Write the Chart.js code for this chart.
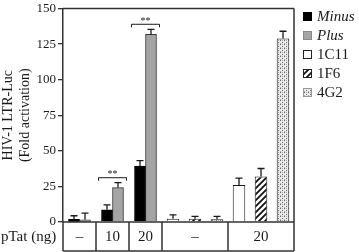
<!DOCTYPE html>
<html>
<head>
<title>pTat luciferase bars</title>
<script src="https://cdn.jsdelivr.net/npm/chart.js"></script>
<style>
body { margin: 0; background: #fff; }
#wrap { width: 359px; height: 252px; position: relative; }
</style>
</head>
<body>
<div id="wrap"><canvas id="myChart"></canvas></div>
<script>
// table row under the plot
var groupLabels = ['\u2013', '10', '20', '\u2013', '20'];
var yTicks = [0, 25, 50, 75, 100, 125, 150];

// pTat groups (first three cells)
var minusVals = [1.8, 8.6, 39.3];
var minusErr = [2.6, 3.5, 3.8];
var plusVals = [1.5, 24.2, 131.8];
var plusErr = [4.8, 3.4, 3.6];
// antibody groups (last two cells)
var c1c11Vals = [2.2, 26.0];
var c1c11Err = [2.8, 4.8];
var c1f6Vals = [2.2, 32.0];
var c1f6Err = [1.8, 5.6];
var c4g2Vals = [2.0, 129.0];
var c4g2Err = [2.0, 5.0];
var sigGroups = [1, 2]; // pTat groups marked **

var SERIF = '"Liberation Serif", "Times New Roman", serif';
var INK = '#1a1a1a';

// one fine category axis: pTat cells take 3 slots, antibody cells 6
var cellSpan = [3, 3, 3, 6, 6];
var cellStart = [];
var nSlots = 0;
cellSpan.forEach(function (s) { cellStart.push(nSlots); nSlots += s; });
var slots = [];
for (var k = 0; k <= nSlots; k++) slots.push('s' + k);

function tatSlot(g, second) { return cellStart[g] + 1 + (second ? 1 : 0); }
function abSlot(g, pos) { return cellStart[3 + g] + 1 + 2 * pos; }
function spread(vals, slotFn) {
  var out = slots.map(function () { return null; });
  vals.forEach(function (v, g) { out[slotFn(g)] = v; });
  return out;
}

function hatch() {
  var c = document.createElement('canvas');
  c.width = 6; c.height = 6;
  var g = c.getContext('2d');
  g.fillStyle = '#fff'; g.fillRect(0, 0, 6, 6);
  g.strokeStyle = '#111'; g.lineWidth = 1.8;
  g.beginPath();
  g.moveTo(0, 6); g.lineTo(6, 0);
  g.moveTo(-3, 3); g.lineTo(3, -3);
  g.moveTo(3, 9); g.lineTo(9, 3);
  g.stroke();
  return g.createPattern(c, 'repeat');
}
function dots() {
  var c = document.createElement('canvas');
  c.width = 4; c.height = 4;
  var g = c.getContext('2d');
  g.fillStyle = '#ebebeb'; g.fillRect(0, 0, 4, 4);
  g.fillStyle = '#666'; g.fillRect(0, 0, 1, 1); g.fillRect(2, 2, 1, 1);
  g.fillStyle = '#aaa'; g.fillRect(2, 0, 1, 1); g.fillRect(0, 3, 1, 1);
  return g.createPattern(c, 'repeat');
}

var extras = {
  id: 'extras',
  afterDatasetsDraw: function (chart) {
    var ctx = chart.ctx, ys = chart.scales.y;
    ctx.save();
    ctx.strokeStyle = INK;
    ctx.lineWidth = 1.3;
    // error bars
    chart.data.datasets.forEach(function (ds, i) {
      var meta = chart.getDatasetMeta(i);
      meta.data.forEach(function (bar, j) {
        var v = ds.data[j];
        if (v == null) return;
        var top = ys.getPixelForValue(v + ds.errors[j]);
        ctx.beginPath();
        ctx.moveTo(bar.x, bar.y);
        ctx.lineTo(bar.x, top);
        ctx.moveTo(bar.x - 3.5, top);
        ctx.lineTo(bar.x + 3.5, top);
        ctx.stroke();
      });
    });
    // significance brackets
    var mm = chart.getDatasetMeta(0), pm = chart.getDatasetMeta(1);
    sigGroups.forEach(function (g) {
      var mb = mm.data[tatSlot(g, false)], pb = pm.data[tatSlot(g, true)];
      var l = mb.x - mb.width / 2 - 3, r = pb.x + pb.width / 2 + 3;
      var hi = Math.max(minusVals[g] + minusErr[g], plusVals[g] + plusErr[g]);
      var y = ys.getPixelForValue(hi) - 5;
      ctx.lineWidth = 1;
      ctx.beginPath();
      ctx.moveTo(l, y + 3); ctx.lineTo(l, y); ctx.lineTo(r, y); ctx.lineTo(r, y + 3);
      ctx.stroke();
      ctx.fillStyle = INK;
      ctx.font = '10px ' + SERIF;
      ctx.textAlign = 'center';
      ctx.textBaseline = 'middle';
      ctx.fillText('**', (l + r) / 2, y - 3);
    });
    ctx.restore();
  },
  afterDraw: function (chart) {
    var ctx = chart.ctx, a = chart.chartArea, xs = chart.scales.x;
    var tb = a.bottom + 29;
    var edge = function (k) { return xs.getPixelForValue(k); };
    ctx.save();
    ctx.strokeStyle = '#333';
    ctx.lineWidth = 1.5;
    ctx.beginPath();
    ctx.moveTo(a.left, a.top); ctx.lineTo(a.right, a.top);
    ctx.moveTo(a.right, a.top); ctx.lineTo(a.right, tb);
    ctx.moveTo(a.left, a.bottom); ctx.lineTo(a.right, a.bottom);
    ctx.moveTo(a.left, a.bottom); ctx.lineTo(a.left, tb);
    ctx.moveTo(a.left, tb); ctx.lineTo(a.right, tb);
    cellStart.slice(1).forEach(function (k) {
      ctx.moveTo(edge(k), a.bottom); ctx.lineTo(edge(k), tb);
    });
    ctx.stroke();
    // table text
    ctx.fillStyle = INK;
    ctx.font = '15px ' + SERIF;
    ctx.textBaseline = 'middle';
    ctx.textAlign = 'center';
    var ty = (a.bottom + tb) / 2 + 1;
    groupLabels.forEach(function (lab, i) {
      ctx.fillText(lab, (edge(cellStart[i]) + edge(cellStart[i] + cellSpan[i])) / 2, ty);
    });
    ctx.textAlign = 'left';
    ctx.fillText('pTat (ng)', 1, ty);
    // legend
    chart.data.datasets.forEach(function (ds, i) {
      var ry = a.top + 8 + 19 * i;
      var sx = a.right + 9;
      ctx.fillStyle = ds.backgroundColor;
      ctx.fillRect(sx, ry - 4.5, 9, 9);
      ctx.strokeStyle = ds.legendBorder;
      ctx.lineWidth = 1;
      ctx.strokeRect(sx + 0.5, ry - 4, 8, 8);
      ctx.fillStyle = INK;
      ctx.font = (ds.italic ? 'italic ' : '') + '15px ' + SERIF;
      ctx.textAlign = 'left';
      ctx.fillText(ds.label, sx + 14, ry + 1);
    });
    ctx.restore();
  }
};

var tat = { grouped: false, borderWidth: 1, categoryPercentage: 1, barPercentage: 1 };
var ab = { grouped: false, borderColor: INK, borderWidth: 1, categoryPercentage: 1.14, barPercentage: 1 };

var chart = new Chart(document.getElementById('myChart').getContext('2d'), {
  type: 'bar',
  data: {
    labels: slots,
    datasets: [
      Object.assign({ label: 'Minus', italic: true,
        data: spread(minusVals, function (g) { return tatSlot(g, false); }),
        errors: spread(minusErr, function (g) { return tatSlot(g, false); }),
        backgroundColor: '#000', borderColor: '#000', legendBorder: '#000' }, tat),
      Object.assign({ label: 'Plus', italic: true,
        data: spread(plusVals, function (g) { return tatSlot(g, true); }),
        errors: spread(plusErr, function (g) { return tatSlot(g, true); }),
        backgroundColor: '#a4a4a4', borderColor: '#333', legendBorder: '#888' }, tat),
      Object.assign({ label: '1C11',
        data: spread(c1c11Vals, function (g) { return abSlot(g, 0); }),
        errors: spread(c1c11Err, function (g) { return abSlot(g, 0); }),
        backgroundColor: '#fff', legendBorder: '#222' }, ab),
      Object.assign({ label: '1F6',
        data: spread(c1f6Vals, function (g) { return abSlot(g, 1); }),
        errors: spread(c1f6Err, function (g) { return abSlot(g, 1); }),
        backgroundColor: hatch(), legendBorder: '#222' }, ab),
      Object.assign({ label: '4G2',
        data: spread(c4g2Vals, function (g) { return abSlot(g, 2); }),
        errors: spread(c4g2Err, function (g) { return abSlot(g, 2); }),
        backgroundColor: dots(), legendBorder: '#999' }, ab)
    ]
  },
  options: {
    responsive: true,
    maintainAspectRatio: false,
    animation: false,
    layout: { padding: { top: 4, right: 65, bottom: 30, left: 0 } },
    plugins: { legend: { display: false }, tooltip: { enabled: false } },
    scales: {
      x: { type: 'category', display: false, offset: false },
      y: {
        min: 0, max: 150,
        afterBuildTicks: function (s) { s.ticks = yTicks.map(function (v) { return { value: v }; }); },
        afterFit: function (s) { s.width = 63; },
        grid: { drawOnChartArea: false, drawTicks: true, tickLength: 5, color: '#333', lineWidth: 1.3 },
        border: { display: true, color: '#333', width: 1.5 },
        ticks: { color: INK, padding: 2, font: { family: SERIF, size: 13, lineHeight: 1 } },
        title: { display: true, text: ['HIV-1 LTR-Luc', '(Fold activation)'], color: INK,
          padding: { top: 0, bottom: 0 }, font: { family: SERIF, size: 14 } }
      }
    }
  },
  plugins: [extras]
});
</script>
</body>
</html>
